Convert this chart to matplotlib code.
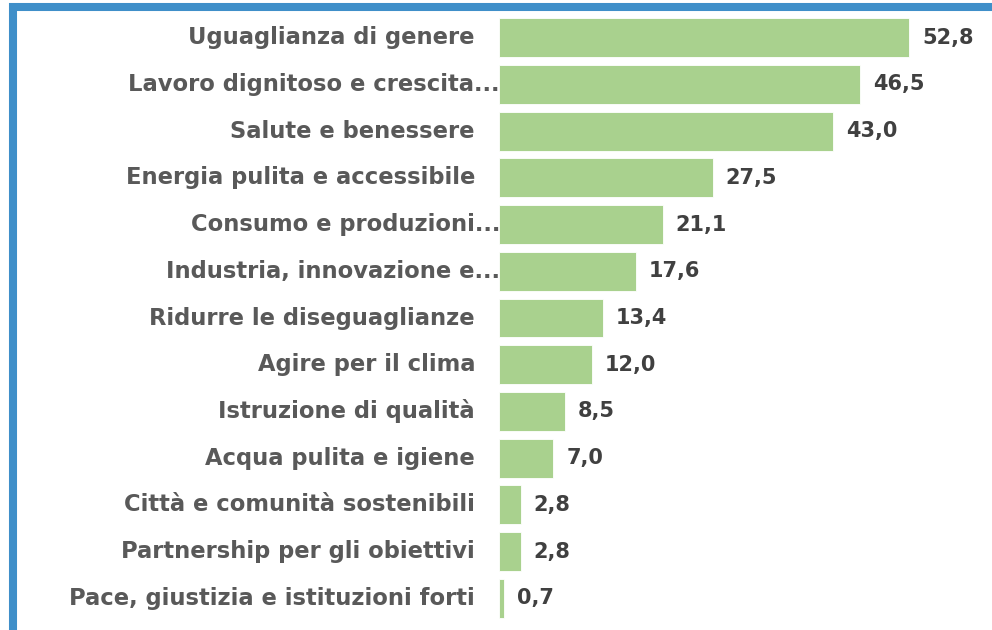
import matplotlib
matplotlib.use('Agg')
import matplotlib.pyplot as plt
from matplotlib.patches import Rectangle

# categorie (dall'alto verso il basso) e valori in %
categorie = ['Uguaglianza di genere',
             'Lavoro dignitoso e crescita...',
             'Salute e benessere',
             'Energia pulita e accessibile',
             'Consumo e produzioni...',
             'Industria, innovazione e...',
             'Ridurre le diseguaglianze',
             'Agire per il clima',
             'Istruzione di qualità',
             'Acqua pulita e igiene',
             'Città e comunità sostenibili',
             'Partnership per gli obiettivi',
             'Pace, giustizia e istituzioni forti']
valori = [52.8, 46.5, 43.0, 27.5, 21.1, 17.6, 13.4, 12.0, 8.5, 7.0, 2.8, 2.8, 0.7]

plt.rcParams['font.family'] = ['DejaVu Sans']

W, H = 992, 630
fig = plt.figure(figsize=(W / 100, H / 100), dpi=100)
fig.patch.set_facecolor('white')

# area del grafico in pixel
x0, x1 = 499, 980.4
y_top, y_bot = 14.4, 621.6
ax = fig.add_axes([x0 / W, 1 - y_bot / H, (x1 - x0) / W, (y_bot - y_top) / H])

pos = list(range(len(categorie)))
ax.barh(pos, valori, height=0.83, color='#A9D18E', edgecolor='white', linewidth=0.6)
ax.set_xlim(0, 62)
ax.set_ylim(len(categorie) - 0.5, -0.5)

for p, v in zip(pos, valori):
    ax.annotate(f'{v:.1f}'.replace('.', ','), xy=(v, p), xytext=(13, 0),
                textcoords='offset pixels', ha='left', va='center',
                fontsize=15, fontweight='bold', color='#404040')

for p, c in zip(pos, categorie):
    off = 1 if c.endswith('...') else -24
    ax.annotate(c, xy=(0, p), xytext=(off, 0), textcoords='offset pixels',
                ha='right', va='center', fontsize=16.3, fontweight='bold',
                color='#595959', annotation_clip=False)

ax.set_xticks([])
ax.set_yticks([])
for s in ax.spines.values():
    s.set_visible(False)

# cornice blu
fig.patches.append(Rectangle((13 / W, -1.5 / H), 1.2, (H - 7 + 1.5) / H,
                             transform=fig.transFigure, fill=False,
                             edgecolor='#3F8FC9', linewidth=5.8))

fig.savefig('out.png', dpi=100)
